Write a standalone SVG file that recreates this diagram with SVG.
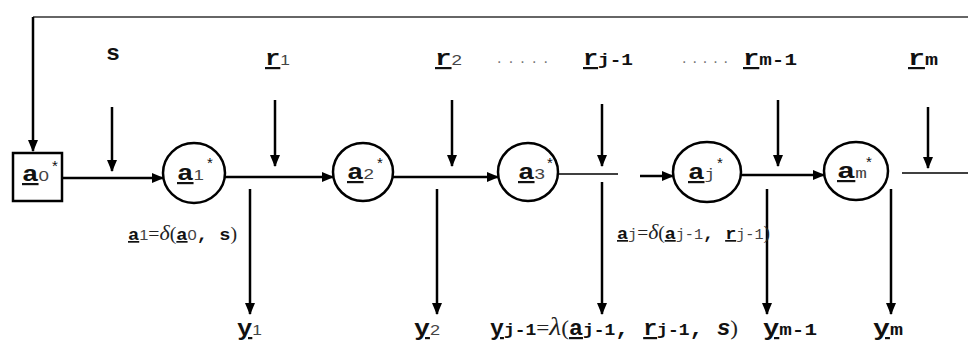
<svg xmlns="http://www.w3.org/2000/svg" width="968" height="345" viewBox="0 0 968 345">
<defs>
<marker id="ah" viewBox="0 0 12 10" refX="11" refY="5" markerWidth="12" markerHeight="10" orient="auto" markerUnits="userSpaceOnUse">
<path d="M0,0 L12,5 L0,10 z" fill="#000"/>
</marker>
</defs>
<style>
.nd{fill:#fff;stroke:#000;stroke-width:2.5}
.ln{stroke:#000;stroke-width:2.5;fill:none}
.th{stroke:#000;stroke-width:1.5;fill:none}
.tp{stroke:#333;stroke-width:1.5;fill:none}
.t{font-family:"Liberation Mono",monospace;font-weight:bold;font-size:22px;fill:#111}
.m{font-family:"Liberation Mono",monospace;font-weight:bold;font-size:17px;fill:#111}
.u{text-decoration:underline;text-decoration-thickness:3px}
.sb{font-family:"Liberation Sans",sans-serif;font-weight:normal;font-size:15px;fill:#444}
.sm{font-family:"Liberation Mono",monospace;font-weight:bold;font-size:17px}
.sn{font-family:"Liberation Mono",monospace;font-weight:normal;font-size:14px;fill:#444}
.sr{font-family:"Liberation Serif",serif;font-weight:normal;fill:#222}
.st{font-family:"Liberation Sans",sans-serif;font-weight:normal;font-size:15px;fill:#111}
.dt{font-family:"Liberation Sans",sans-serif;font-weight:normal;font-size:16px;fill:#777}
</style>
<g id="connectors">
<path class="tp" d="M968,17 H33"/>
<path class="ln" d="M33,17 V151" marker-end="url(#ah)"/>
<path class="ln" d="M112,107 V171" marker-end="url(#ah)"/>
<path class="ln" d="M275,100 V166" marker-end="url(#ah)"/>
<path class="ln" d="M452,100 V166" marker-end="url(#ah)"/>
<path class="ln" d="M602,104 V166" marker-end="url(#ah)"/>
<path class="ln" d="M778,100 V166" marker-end="url(#ah)"/>
<path class="ln" d="M928,107 V168" marker-end="url(#ah)"/>
<path class="ln" d="M62,178 H163" marker-end="url(#ah)"/>
<path class="ln" d="M225,177 H333" marker-end="url(#ah)"/>
<path class="ln" d="M393,177 H498" marker-end="url(#ah)"/>
<path class="th" d="M559,174 H618"/>
<path class="ln" d="M640,176 H673" marker-end="url(#ah)"/>
<path class="ln" d="M741,175 H824" marker-end="url(#ah)"/>
<path class="th" d="M902,173 H968"/>
<path class="ln" d="M250,189 V314" marker-end="url(#ah)"/>
<path class="ln" d="M437,189 V314" marker-end="url(#ah)"/>
<path class="ln" d="M602,182 V314" marker-end="url(#ah)"/>
<path class="ln" d="M767,189 V314" marker-end="url(#ah)"/>
<path class="ln" d="M891,189 V314" marker-end="url(#ah)"/>
</g>
<g id="node-a0">
<rect class="nd" x="13" y="153" width="49" height="48"/>
<text class="t" x="22" y="181" textLength="27" lengthAdjust="spacingAndGlyphs"><tspan class="u">a</tspan><tspan class="sb">0</tspan></text>
<text class="st" x="55" y="171" text-anchor="middle">*</text>
</g>
<g id="node-a1">
<ellipse class="nd" cx="194" cy="173" rx="31" ry="30"/>
<text class="t" x="177" y="180" textLength="27" lengthAdjust="spacingAndGlyphs"><tspan class="u">a</tspan><tspan class="sb">1</tspan></text>
<text class="st" x="210" y="168" text-anchor="middle">*</text>
</g>
<g id="node-a2">
<ellipse class="nd" cx="363" cy="172" rx="30" ry="29"/>
<text class="t" x="347" y="179" textLength="27" lengthAdjust="spacingAndGlyphs"><tspan class="u">a</tspan><tspan class="sb">2</tspan></text>
<text class="st" x="380" y="168" text-anchor="middle">*</text>
</g>
<g id="node-a3">
<ellipse class="nd" cx="528" cy="172" rx="30" ry="29"/>
<text class="t" x="518" y="179" textLength="27" lengthAdjust="spacingAndGlyphs"><tspan class="u">a</tspan><tspan class="sb">3</tspan></text>
<text class="st" x="550" y="168" text-anchor="middle">*</text>
</g>
<g id="node-aj">
<ellipse class="nd" cx="707" cy="172" rx="34" ry="30"/>
<text class="t" x="688" y="179" textLength="27" lengthAdjust="spacingAndGlyphs"><tspan class="u">a</tspan><tspan class="sn">j</tspan></text>
<text class="st" x="720" y="168" text-anchor="middle">*</text>
</g>
<g id="node-am">
<ellipse class="nd" cx="856" cy="171" rx="32" ry="29"/>
<text class="t" x="837" y="178" textLength="30" lengthAdjust="spacingAndGlyphs"><tspan class="u">a</tspan><tspan class="sn">m</tspan></text>
<text class="st" x="869" y="167" text-anchor="middle">*</text>
</g>
<g id="inputs">
<text class="t" x="106" y="60" textLength="14" lengthAdjust="spacingAndGlyphs">s</text>
<text class="t" x="265" y="65" textLength="25" lengthAdjust="spacingAndGlyphs"><tspan class="u">r</tspan><tspan class="sb">1</tspan></text>
<text class="t" x="435" y="65" textLength="27" lengthAdjust="spacingAndGlyphs"><tspan class="u">r</tspan><tspan class="sb">2</tspan></text>
<text class="dt" x="497" y="63" textLength="51" lengthAdjust="spacing">.....</text>
<text class="t" x="583" y="65" textLength="50" lengthAdjust="spacingAndGlyphs"><tspan class="u">r</tspan><tspan class="sm">j-1</tspan></text>
<text class="dt" x="682" y="63" textLength="46" lengthAdjust="spacing">.....</text>
<text class="t" x="743" y="65" textLength="54" lengthAdjust="spacingAndGlyphs"><tspan class="u">r</tspan><tspan class="sm">m-1</tspan></text>
<text class="t" x="908" y="65" textLength="30" lengthAdjust="spacingAndGlyphs"><tspan class="u">r</tspan><tspan class="sm">m</tspan></text>
</g>
<g id="formulas">
<text class="m" x="128" y="240" textLength="109" lengthAdjust="spacingAndGlyphs"><tspan class="u">a</tspan><tspan class="sb" font-size="13">1</tspan><tspan class="sr" font-size="18">=</tspan><tspan class="sr" font-size="20" font-style="italic">δ</tspan><tspan class="sr" font-size="18">(</tspan><tspan class="u">a</tspan><tspan class="sb" font-size="13">0</tspan><tspan>, s</tspan><tspan class="sr" font-size="18">)</tspan></text>
<text class="m" x="617" y="239" textLength="153" lengthAdjust="spacingAndGlyphs"><tspan class="u">a</tspan><tspan class="sn" font-size="12">j</tspan><tspan class="sr" font-size="18">=</tspan><tspan class="sr" font-size="20" font-style="italic">δ</tspan><tspan class="sr" font-size="18">(</tspan><tspan class="u">a</tspan><tspan class="sn" font-size="13">j-1</tspan><tspan>, </tspan><tspan class="u">r</tspan><tspan class="sn" font-size="13">j-1</tspan><tspan class="sr" font-size="18">)</tspan></text>
</g>
<g id="outputs">
<text class="t" x="237" y="335" textLength="25" lengthAdjust="spacingAndGlyphs"><tspan class="u">y</tspan><tspan class="sb">1</tspan></text>
<text class="t" x="414" y="335" textLength="26" lengthAdjust="spacingAndGlyphs"><tspan class="u">y</tspan><tspan class="sb">2</tspan></text>
<text class="t" x="490" y="335" textLength="248" lengthAdjust="spacingAndGlyphs"><tspan class="u">y</tspan><tspan class="sm">j-1</tspan><tspan class="sr" font-size="22">=</tspan><tspan class="sr" font-size="26" font-weight="bold" font-style="italic" fill="#111">λ</tspan><tspan class="sr" font-size="22">(</tspan><tspan class="u">a</tspan><tspan class="sm">j-1</tspan><tspan>, </tspan><tspan class="u">r</tspan><tspan class="sm">j-1</tspan><tspan>, </tspan><tspan font-family="Liberation Sans, sans-serif" font-style="italic">s</tspan><tspan class="sr" font-size="22">)</tspan></text>
<text class="t" x="763" y="335" textLength="54" lengthAdjust="spacingAndGlyphs"><tspan class="u">y</tspan><tspan class="sm">m-1</tspan></text>
<text class="t" x="873" y="335" textLength="30" lengthAdjust="spacingAndGlyphs"><tspan class="u">y</tspan><tspan class="sm">m</tspan></text>
</g>
</svg>
